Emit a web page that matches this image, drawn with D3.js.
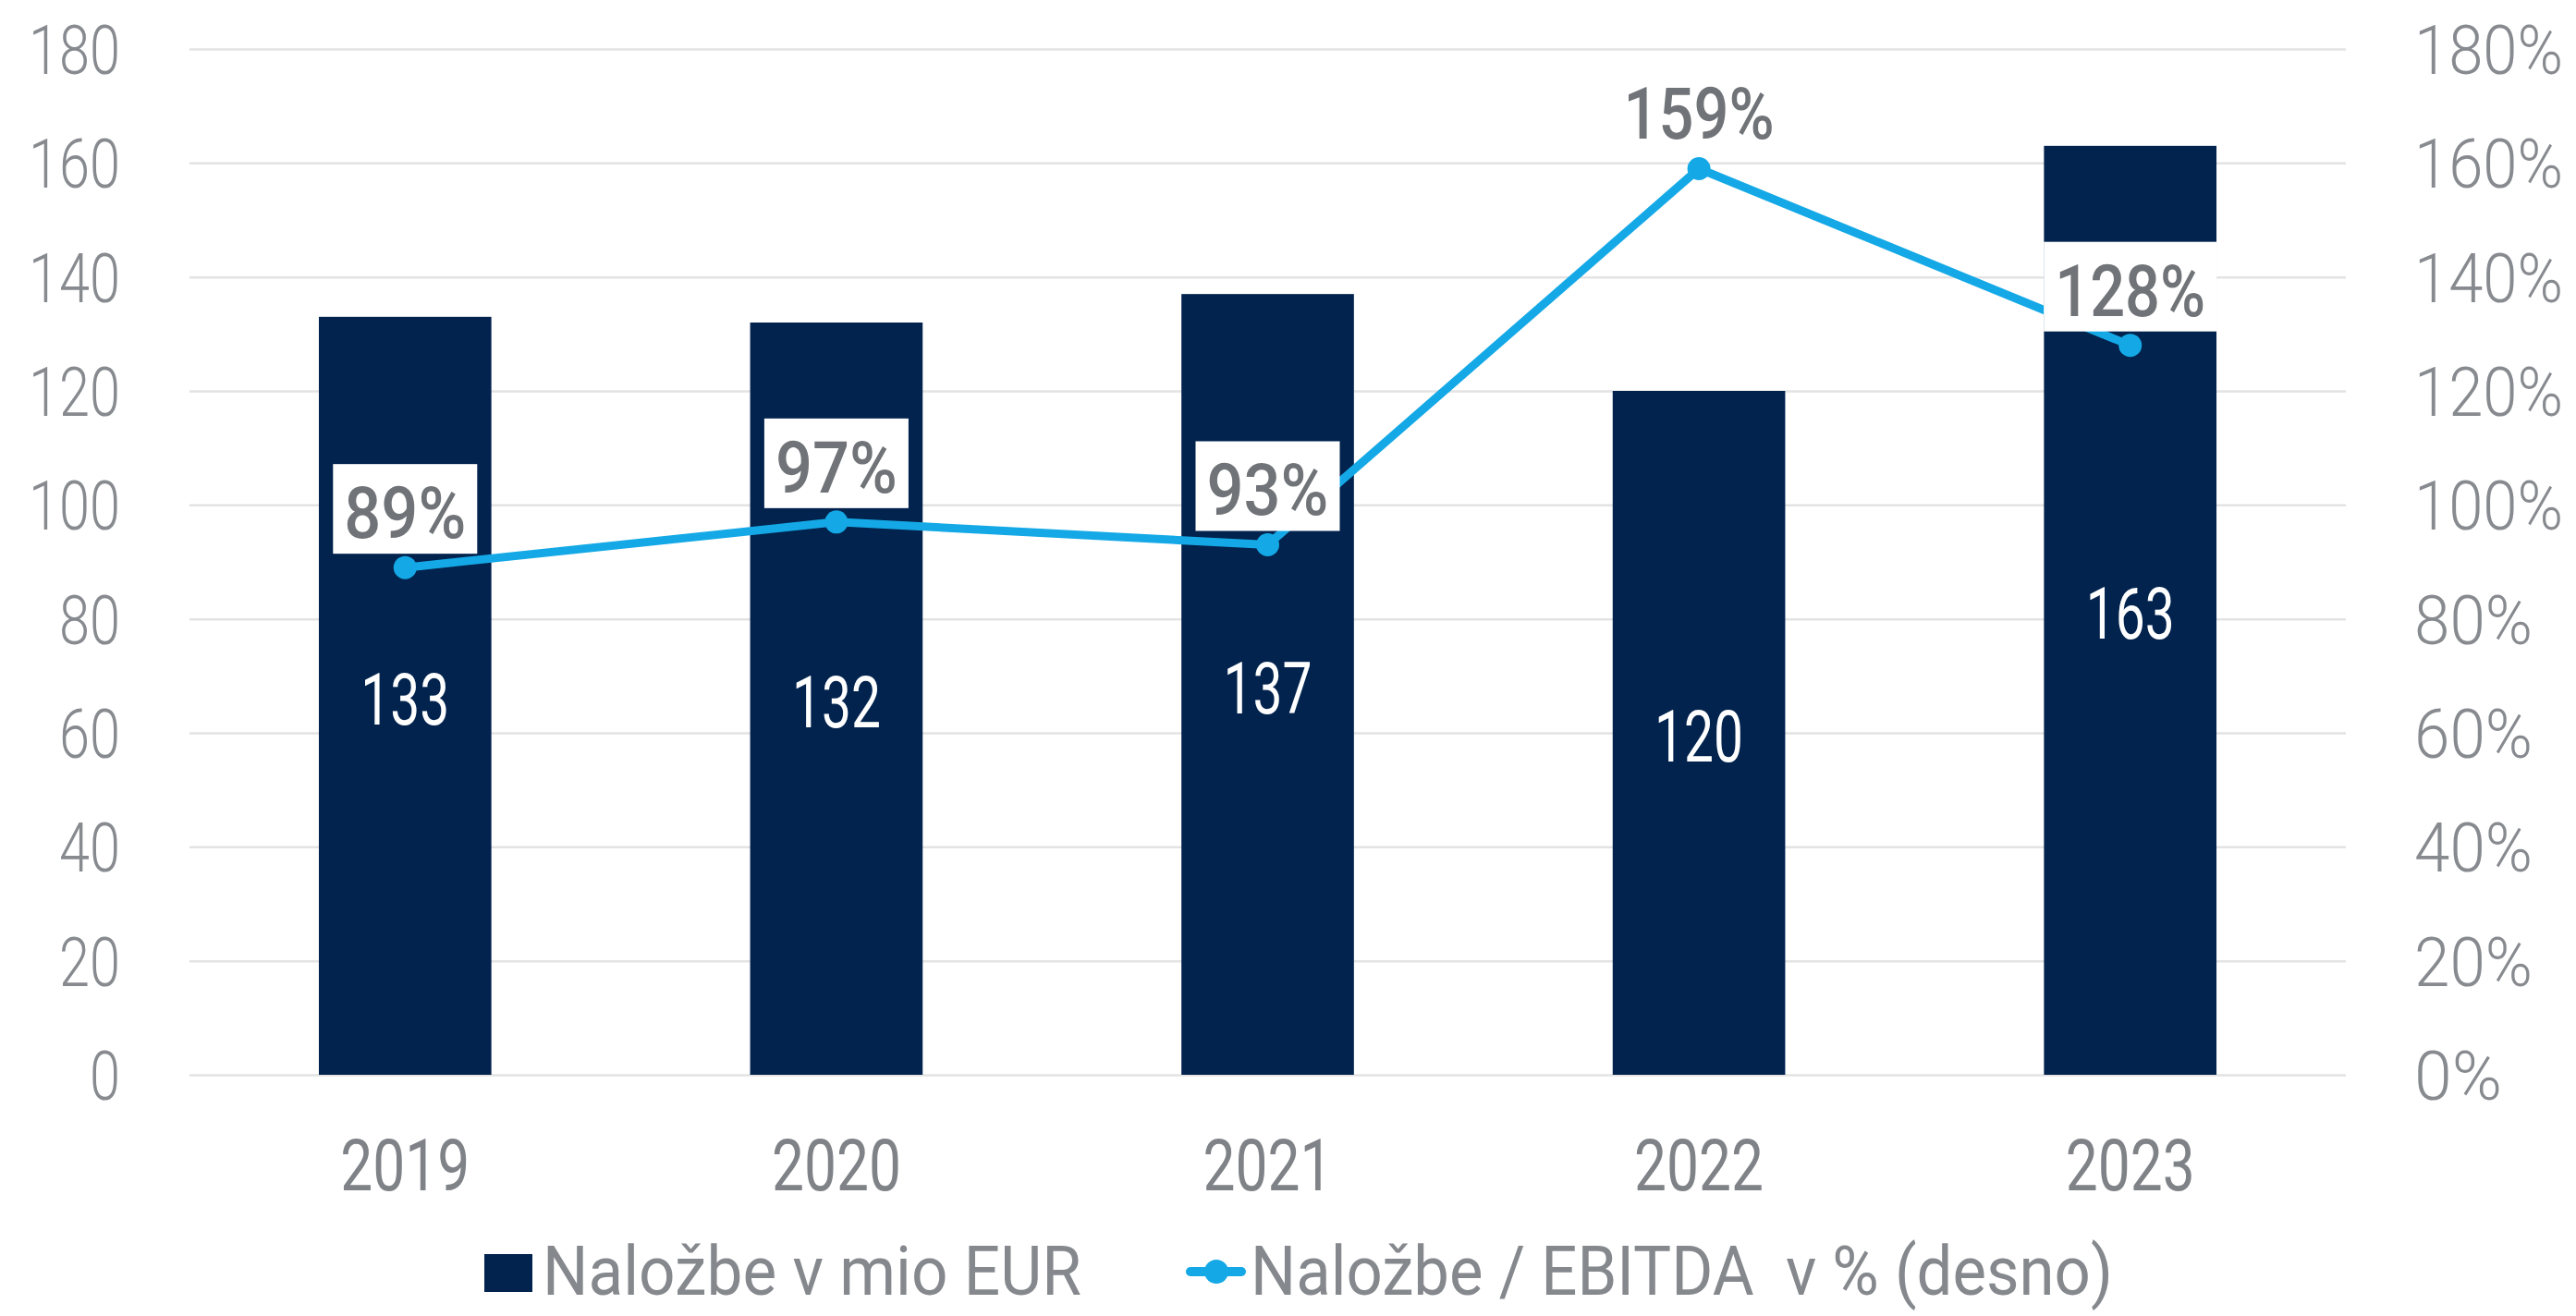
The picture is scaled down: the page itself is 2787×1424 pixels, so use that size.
<!DOCTYPE html>
<html>
<head>
<meta charset="utf-8">
<script src="https://cdn.jsdelivr.net/npm/d3@7/dist/d3.min.js"></script>
<style>
  html, body { margin: 0; padding: 0; background: #ffffff; }
  svg { display: block; }
  text { font-family: Roboto, "Liberation Sans", "DejaVu Sans", sans-serif; }
</style>
</head>
<body>
<svg id="chart" width="2787" height="1424"></svg>
<script>
// ---- data ----
const years = ["2019", "2020", "2021", "2022", "2023"];
const investments = [133, 132, 137, 120, 163];          // Naložbe v mio EUR
const ratioPct = [89, 97, 93, 159, 128];                 // Naložbe / EBITDA v %
const leftTicks = [0, 20, 40, 60, 80, 100, 120, 140, 160, 180];
const rightTicks = [0, 20, 40, 60, 80, 100, 120, 140, 160, 180];
const legendLabels = ["Naložbe v mio EUR", "Naložbe / EBITDA  v % (desno)"];

// ---- layout ----
const plot = { left: 205, right: 2538, top: 53, bottom: 1163 };
const barColor = "#02234E";
const lineColor = "#14A9E6";
const axisText = "#878A8F";
const labelText = "#707377";
const gridColor = "#E3E3E3";

// narrow the glyphs horizontally (about the text's anchor x) to the DIN-like width of the original
function condense(sel, widthFn) {
  sel.each(function (d, i) {
    const node = this;
    const t = d3.select(node);
    const natural = node.getComputedTextLength();
    const target = widthFn(t.text(), i);
    const k = target / natural;
    const ax = +(t.attr("x") || 0);
    const prev = t.attr("transform") || "";
    t.attr("transform", `${prev} translate(${ax},0) scale(${k},1) translate(${-ax},0)`);
  });
}
const digitsW = (s, per, pct) => s.replace("%", "").length * per + (s.includes("%") ? pct : 0);

const svg = d3.select("#chart");

const x = d3.scaleBand().domain(years).range([plot.left, plot.right]).padding(0);
const yL = d3.scaleLinear().domain([0, 180]).range([plot.bottom, plot.top]);
const yR = d3.scaleLinear().domain([0, 180]).range([plot.bottom, plot.top]);
const barW = x.bandwidth() * 0.4;

// gridlines
const grid = svg.append("g")
  .attr("transform", `translate(${plot.left},0)`)
  .call(d3.axisLeft(yL).tickValues(leftTicks).tickSize(-(plot.right - plot.left)).tickFormat(""));
grid.select(".domain").remove();
grid.selectAll(".tick line").attr("stroke", gridColor).attr("stroke-width", 2.5);

// left axis labels
const axL = svg.append("g")
  .attr("transform", `translate(${plot.left},0)`)
  .call(d3.axisLeft(yL).tickValues(leftTicks).tickSize(0).tickPadding(75).tickFormat(d3.format("d")));
axL.select(".domain").remove();
axL.selectAll(".tick text")
  .attr("fill", axisText).attr("font-size", 75).attr("font-weight", 300)
  .attr("dy", "0.355em").attr("font-family", null);
condense(axL.selectAll(".tick text"), s => digitsW(s, 33, 0));

// right axis labels
const axR = svg.append("g")
  .attr("transform", `translate(${plot.right},0)`)
  .call(d3.axisRight(yR).tickValues(rightTicks).tickSize(0).tickPadding(74).tickFormat(d => d + "%"));
axR.select(".domain").remove();
axR.selectAll(".tick text")
  .attr("fill", axisText).attr("font-size", 75).attr("font-weight", 300)
  .attr("dy", "0.355em").attr("font-family", null);
condense(axR.selectAll(".tick text"), s => digitsW(s, 33, 62));

// x axis labels
const axX = svg.append("g")
  .attr("transform", `translate(0,${plot.bottom})`)
  .call(d3.axisBottom(x).tickSize(0).tickPadding(0));
axX.select(".domain").remove();
axX.selectAll(".tick text")
  .attr("fill", "#7F8287").attr("font-size", 77).attr("y", 125).attr("dy", 0)
  .attr("font-family", null);
condense(axX.selectAll(".tick text"), s => digitsW(s, 35, 0));

// bars
svg.append("g").selectAll("rect")
  .data(years)
  .join("rect")
  .attr("x", (d) => x(d) + (x.bandwidth() - barW) / 2)
  .attr("width", barW)
  .attr("y", (d, i) => yL(investments[i]))
  .attr("height", (d, i) => yL(0) - yL(investments[i]))
  .attr("fill", barColor);

// bar value labels
const barLbl = svg.append("g").selectAll("text")
  .data(years)
  .join("text")
  .attr("x", (d) => x(d) + x.bandwidth() / 2)
  .attr("y", (d, i) => (yL(investments[i]) + yL(0)) / 2 + 31)
  .attr("text-anchor", "middle")
  .attr("font-size", 77)
  .attr("fill", "#ffffff")
  .text((d, i) => investments[i]);
condense(barLbl, s => digitsW(s, 32, 0));

// line
const pts = years.map((d, i) => [x(d) + x.bandwidth() / 2, yR(ratioPct[i])]);
svg.append("path")
  .attr("d", d3.line()(pts))
  .attr("fill", "none")
  .attr("stroke", lineColor)
  .attr("stroke-width", 9)
  .attr("stroke-linejoin", "round");
svg.append("g").selectAll("circle")
  .data(pts)
  .join("circle")
  .attr("cx", d => d[0]).attr("cy", d => d[1]).attr("r", 12.5)
  .attr("fill", lineColor);

// line labels with white boxes
const lblG = svg.append("g");
pts.forEach((p, i) => {
  const g = lblG.append("g");
  const s = ratioPct[i] + "%";
  const w = digitsW(s, 31, 70);
  const baseline = p[1] - 32;
  g.append("rect").attr("fill", "#ffffff")
    .attr("x", p[0] - w / 2 - 12).attr("width", w + 24)
    .attr("y", baseline - 80).attr("height", 97);
  const t = g.append("text")
    .attr("x", p[0]).attr("y", baseline)
    .attr("text-anchor", "middle")
    .attr("font-size", 78)
    .attr("font-weight", 500)
    .attr("fill", labelText)
    .text(s);
  condense(t, () => w);
});

// legend (kept fully inside the picture)
const legY = 1401;   // text baseline
const leg = svg.append("g");
leg.append("rect").attr("x", 524).attr("y", legY - 44).attr("width", 52).attr("height", 41).attr("fill", barColor);
const lt1 = leg.append("text").attr("x", 587).attr("y", legY).attr("font-size", 74)
  .attr("fill", "#85888D")
  .text(legendLabels[0]);
condense(lt1, () => 583);
leg.append("line").attr("x1", 1288).attr("x2", 1343).attr("y1", legY - 25).attr("y2", legY - 25)
  .attr("stroke", lineColor).attr("stroke-width", 10).attr("stroke-linecap", "round");
leg.append("circle").attr("cx", 1316).attr("cy", legY - 25).attr("r", 13).attr("fill", lineColor);
const lt2 = leg.append("text").attr("x", 1353).attr("y", legY).attr("font-size", 74)
  .attr("fill", "#85888D")
  .style("white-space", "pre")
  .text(legendLabels[1]);
condense(lt2, () => 933);
</script>
</body>
</html>
